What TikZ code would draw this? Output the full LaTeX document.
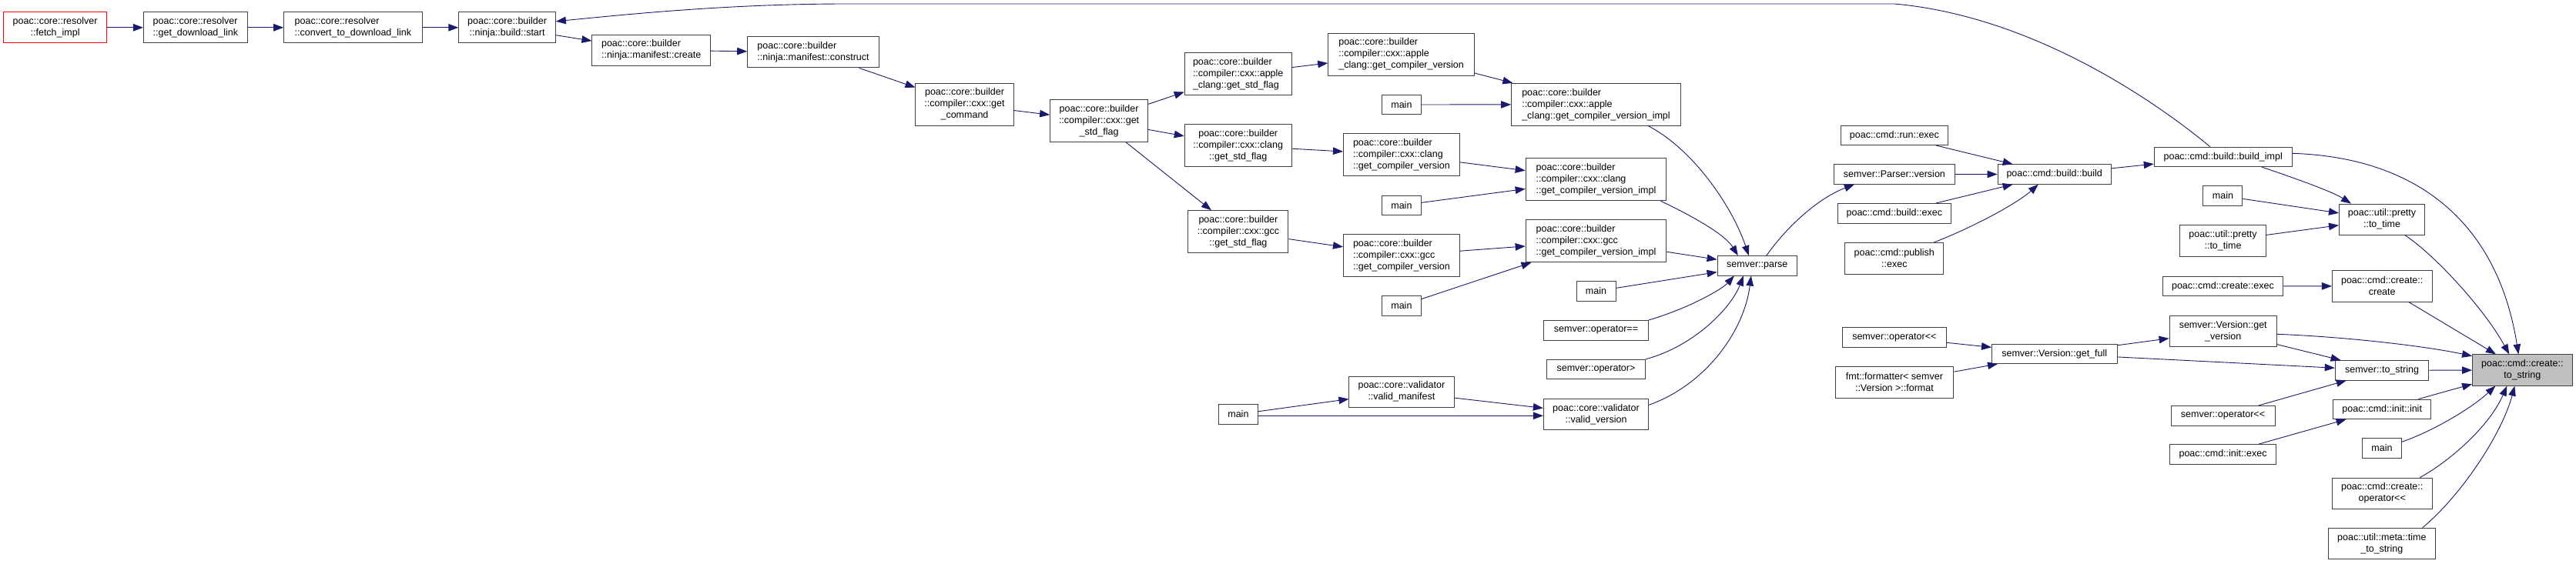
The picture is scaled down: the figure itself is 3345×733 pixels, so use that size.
\documentclass[tikz,border=0pt]{standalone}
\usepackage{fontspec}
\newfontfamily\lblfont{Liberation Sans}
\usetikzlibrary{arrows.meta}
\definecolor{edgecol}{HTML}{191970}
\definecolor{boxline}{HTML}{404040}
\definecolor{hl}{HTML}{BFBFBF}
\begin{document}
\begin{tikzpicture}[x=1pt,y=-1pt,
  box/.style={draw=boxline, line width=0.9pt, fill=white, inner sep=0pt,
    font=\lblfont\fontsize{12.5}{15}\selectfont, align=center, minimum height=25.5pt},
  two/.style={minimum height=40.3pt},
  three/.style={minimum height=55pt},
  lft/.style={align=left},
  edge/.style={draw=edgecol, line width=0.9pt, -{Triangle[length=13pt,width=9.5pt]}}]
\useasboundingbox (0,0) rectangle (3345,733);

% ---- nodes
\node[box,two,draw=red,minimum width=134pt] (fetch) at (71.6,35.8) {poac::core::resolver\\::fetch\_impl};
\node[box,two,lft,minimum width=135pt] (gdl) at (253.9,35.8) {poac::core::resolver\\::get\_download\_link};
\node[box,two,lft,minimum width=179.6pt] (conv) at (458.4,35.8) {poac::core::resolver\\::convert\_to\_download\_link};
\node[box,two,minimum width=125.7pt] (start) at (658.6,35.8) {poac::core::builder\\::ninja::build::start};
\node[box,two,lft,minimum width=153.6pt] (mcreate) at (845.7,65.2) {poac::core::builder\\::ninja::manifest::create};
\node[box,two,lft,minimum width=170.7pt] (mconstruct) at (1056,67.8) {poac::core::builder\\::ninja::manifest::construct};
\node[box,three,minimum width=127.2pt] (getcmd) at (1252.5,135.7) {poac::core::builder\\::compiler::cxx::get\\\_command};
\node[box,three,minimum width=127.1pt] (getstd) at (1427.1,157) {poac::core::builder\\::compiler::cxx::get\\\_std\_flag};
\node[box,three,lft,minimum width=139pt] (acstd) at (1607.7,96) {poac::core::builder\\::compiler::cxx::apple\\\_clang::get\_std\_flag};
\node[box,three,minimum width=139pt] (clstd) at (1607.7,189.3) {poac::core::builder\\::compiler::cxx::clang\\::get\_std\_flag};
\node[box,three,minimum width=130pt] (gccstd) at (1607.9,301.2) {poac::core::builder\\::compiler::cxx::gcc\\::get\_std\_flag};
\node[box,three,lft,minimum width=190pt] (acgcv) at (1819.6,70.5) {poac::core::builder\\::compiler::cxx::apple\\\_clang::get\_compiler\_version};
\node[box,minimum width=51pt] (mainA) at (1819.9,136) {main};
\node[box,three,lft,minimum width=220pt] (acimpl) at (2072.5,135.8) {poac::core::builder\\::compiler::cxx::apple\\\_clang::get\_compiler\_version\_impl};
\node[box,three,lft,minimum width=151pt] (clgcv) at (1819.9,201.2) {poac::core::builder\\::compiler::cxx::clang\\::get\_compiler\_version};
\node[box,minimum width=51pt] (mainB) at (1819.9,266.8) {main};
\node[box,three,lft,minimum width=182.8pt] (climpl) at (2072.5,233.3) {poac::core::builder\\::compiler::cxx::clang\\::get\_compiler\_version\_impl};
\node[box,three,lft,minimum width=151pt] (gccgcv) at (1819.9,331.8) {poac::core::builder\\::compiler::cxx::gcc\\::get\_compiler\_version};
\node[box,three,lft,minimum width=182.8pt] (gccimpl) at (2072.5,313.2) {poac::core::builder\\::compiler::cxx::gcc\\::get\_compiler\_version\_impl};
\node[box,minimum width=51pt] (mainC) at (1819.9,397.2) {main};
\node[box,minimum width=51pt] (mainD) at (2072.5,378.5) {main};
\node[box,minimum width=135.8pt] (opeq) at (2072.5,429.2) {semver::operator==};
\node[box,minimum width=127.8pt] (opgt) at (2072.5,480) {semver::operator>};
\node[box,two,minimum width=136.1pt] (validman) at (1819.9,509.2) {poac::core::validator\\::valid\_manifest};
\node[box,two,minimum width=136.4pt] (validver) at (2072.5,538.3) {poac::core::validator\\::valid\_version};
\node[box,minimum width=51pt] (mainE) at (1607.9,538.3) {main};
\node[box,minimum width=103.6pt] (parse) at (2281.8,345.3) {semver::parse};
\node[box,minimum width=139pt] (runexec) at (2459.9,175.8) {poac::cmd::run::exec};
\node[box,minimum width=157.5pt] (pversion) at (2459.9,226.5) {semver::Parser::version};
\node[box,minimum width=146.8pt] (bexec) at (2459.8,277.2) {poac::cmd::build::exec};
\node[box,two,minimum width=128.2pt] (pubexec) at (2459.8,335.8) {poac::cmd::publish\\::exec};
\node[box,minimum width=134.6pt] (opllA) at (2459.8,438.3) {semver::operator<<};
\node[box,two,minimum width=153.9pt] (fmt) at (2459.9,497) {fmt::formatter< semver\\::Version >::format};
\node[box,minimum width=147.5pt] (bbuild) at (2667.7,226.5) {poac::cmd::build::build};
\node[box,minimum width=162.5pt] (getfull) at (2667.7,459.8) {semver::Version::get\_full};
\node[box,minimum width=179pt] (bimpl) at (2886.7,203.8) {poac::cmd::build::build\_impl};
\node[box,minimum width=51pt] (mainF) at (2886.4,254.5) {main};
\node[box,two,minimum width=111.3pt] (ptsrc) at (2886.5,313) {poac::util::pretty\\::to\_time};
\node[box,minimum width=156.8pt] (cexec) at (2886.4,372) {poac::cmd::create::exec};
\node[box,two,minimum width=139.4pt] (getver) at (2886.7,430.3) {semver::Version::get\\\_version};
\node[box,minimum width=134.9pt] (opllB) at (2886.5,540.2) {semver::operator<<};
\node[box,minimum width=137.7pt] (initexec) at (2886.5,590.3) {poac::cmd::init::exec};
\node[box,two,minimum width=111.2pt] (totime) at (3093,285.2) {poac::util::pretty\\::to\_time};
\node[box,two,minimum width=129.6pt] (ccreate) at (3093.2,371.8) {poac::cmd::create::\\create};
\node[box,minimum width=121.6pt] (sts) at (3093,481.3) {semver::to\_string};
\node[box,minimum width=126.8pt] (initinit) at (3093.2,531.8) {poac::cmd::init::init};
\node[box,minimum width=50.8pt] (mainG) at (3093,582.3) {main};
\node[box,two,minimum width=129.6pt] (cop) at (3093.2,641.2) {poac::cmd::create::\\operator<<};
\node[box,two,minimum width=138.7pt] (tts) at (3092.8,706.3) {poac::util::meta::time\\\_to\_string};
\node[box,two,fill=hl,minimum width=129.6pt] (tostr) at (3275.3,481) {poac::cmd::create::\\to\_string};

% ---- edges
\draw[edge] (fetch) -- (gdl);
\draw[edge] (gdl) -- (conv);
\draw[edge] (conv) -- (start);
\draw[edge] (start) -- (mcreate);
\draw[edge] (mcreate) -- (mconstruct);
\draw[edge] (mconstruct) -- (getcmd);
\draw[edge] (getcmd) -- (getstd);
\draw[edge] (getstd) -- (acstd);
\draw[edge] (getstd) -- (clstd);
\draw[edge] (getstd) -- (gccstd);
\draw[edge] (acstd) -- (acgcv);
\draw[edge] (clstd) -- (clgcv);
\draw[edge] (gccstd) -- (gccgcv);
\draw[edge] (acgcv) -- (acimpl);
\draw[edge] (mainA) -- (acimpl);
\draw[edge] (clgcv) -- (climpl);
\draw[edge] (mainB) -- (climpl);
\draw[edge] (gccgcv) -- (gccimpl);
\draw[edge] (mainC) -- (gccimpl);
\draw[edge] ([xshift=68]acimpl.south) .. controls (2200,195) and (2250,270) .. ([xshift=-11]parse.north);
\draw[edge] ([xshift=84]climpl.south) .. controls (2200,282) and (2240,305) .. ([xshift=-25]parse.north);
\draw[edge] (gccimpl) -- (parse);
\draw[edge] (mainD) -- (parse);
\draw[edge] (opeq.north east) .. controls (2195,400) and (2237,375) .. ([xshift=-30]parse.south);
\draw[edge] (opgt.north east) .. controls (2200,450) and (2248,400) .. ([xshift=-18]parse.south);
\draw[edge] ([yshift=12]validver.east) .. controls (2215,500) and (2265,430) .. ([xshift=-8]parse.south);
\draw[edge] (mainE) -- (validman);
\draw[edge] ([yshift=-2]mainE.east) -- ([yshift=-2]validver.west);
\draw[edge] (validman) -- (validver);
\draw[edge] ([xshift=12]parse.north) .. controls (2320,295) and (2360,258) .. ([xshift=-52]pversion.south);
\draw[edge] (pversion) -- (bbuild);
\draw[edge] (runexec) -- (bbuild);
\draw[edge] (bexec) -- (bbuild);
\draw[edge] ([xshift=51]pubexec.north) .. controls (2570,292) and (2622,262) .. ([xshift=-21]bbuild.south);
\draw[edge] (bbuild) -- (bimpl);
\draw[edge] ([xshift=-17]bimpl.north) .. controls (2815,145) and (2650,22) .. (2460,5) -- (1100,5) .. controls (950,5) and (820,18) .. ([yshift=8]start.east);
\draw[edge] ([xshift=50]bimpl.south) .. controls (2990,235) and (3030,250) .. ([xshift=-40]totime.north);
\draw[edge] (mainF) -- (totime);
\draw[edge] (ptsrc) -- (totime);
\draw[edge] ([yshift=4.5]bimpl.east) .. controls (3150,205) and (3245,300) .. ([xshift=-5]tostr.north);
\draw[edge] ([xshift=30]totime.south) .. controls (3160,330) and (3225,400) .. ([xshift=-17]tostr.north);
\draw[edge] (cexec) -- (ccreate);
\draw[edge] (ccreate) -- (tostr);
\draw[edge] ([yshift=-4]getver.east) .. controls (3050,438) and (3150,450) .. ([yshift=-2.3]tostr.north west);
\draw[edge] (getver) -- (sts);
\draw[edge] (getfull) -- (getver);
\draw[edge] (getfull) -- (sts);
\draw[edge] (sts) -- (tostr);
\draw[edge] (opllB) -- (sts);
\draw[edge] (initinit) -- (tostr);
\draw[edge] (initexec) -- (initinit);
\draw[edge] ([yshift=8]mainG.east) .. controls (3160,560) and (3210,530) .. ([xshift=-35]tostr.south);
\draw[edge] ([xshift=49]cop.north) .. controls (3180,600) and (3232,555) .. ([xshift=-20]tostr.south);
\draw[edge] ([xshift=53]tts.north) .. controls (3200,640) and (3250,560) .. ([xshift=-10]tostr.south);
\draw[edge] (opllA) -- (getfull);
\draw[edge] (fmt) -- (getfull);
\end{tikzpicture}
\end{document}
